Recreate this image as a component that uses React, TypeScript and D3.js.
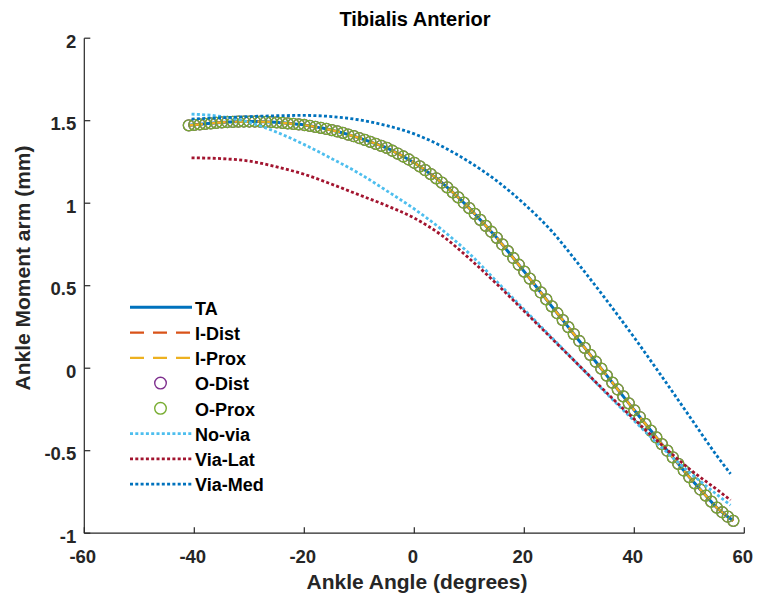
import React, { useEffect, useRef } from "react";
import * as d3 from "d3";

// ankle angle grid used by the TA family (1 degree steps)
const taAngles = d3.range(-41, 59, 1);

// TA moment arm (I-Dist, I-Prox, O-Dist, O-Prox sit on top of it)
const taValues = [
  1.472,
  1.475, 1.478, 1.481, 1.484, 1.487, 1.49, 1.492, 1.493, 1.494, 1.495,
  1.495, 1.495, 1.494, 1.493, 1.492, 1.49, 1.487, 1.484, 1.481, 1.478,
  1.474, 1.469, 1.463, 1.457, 1.45, 1.443, 1.435, 1.426, 1.416, 1.406,
  1.395, 1.384, 1.372, 1.36, 1.348, 1.335, 1.318, 1.301, 1.283, 1.265,
  1.245, 1.223, 1.2, 1.176, 1.151, 1.125, 1.096, 1.066, 1.035, 1.003,
  0.97, 0.935, 0.899, 0.863, 0.827, 0.79, 0.75, 0.709, 0.668, 0.627,
  0.585, 0.543, 0.501, 0.459, 0.417, 0.375, 0.333, 0.291, 0.249, 0.207,
  0.165, 0.123, 0.081, 0.039, -0.003, -0.045, -0.087, -0.129, -0.171, -0.213,
  -0.255, -0.296, -0.337, -0.378, -0.419, -0.46, -0.5, -0.54, -0.58, -0.62,
  -0.66, -0.698, -0.735, -0.772, -0.809, -0.845, -0.873, -0.9, -0.925,
];

// coarser readings for the via-point variants
const viaAngles = [-40.5, -35, -30, -25, -20, -15, -10, -5, 0, 5, 10, 15, 20, 25, 30, 35, 40, 45, 50, 55, 57.5];
const noViaValues = [1.54, 1.525, 1.49, 1.43, 1.355, 1.27, 1.18, 1.075, 0.965, 0.84, 0.695, 0.525, 0.355, 0.185, 0.015, -0.155, -0.32, -0.48, -0.63, -0.765, -0.83];
const viaLatValues = [1.275, 1.27, 1.255, 1.22, 1.175, 1.115, 1.05, 0.985, 0.91, 0.805, 0.665, 0.51, 0.345, 0.18, 0.015, -0.15, -0.31, -0.465, -0.61, -0.735, -0.8];
const viaMedValues = [1.51, 1.518, 1.525, 1.53, 1.532, 1.525, 1.505, 1.47, 1.42, 1.345, 1.25, 1.135, 0.995, 0.83, 0.625, 0.41, 0.185, -0.05, -0.29, -0.53, -0.64];

const xTicks = [-60, -40, -20, 0, 20, 40, 60];
const yTicks = [-1, -0.5, 0, 0.5, 1, 1.5, 2];

const legendNames = ["TA", "I-Dist", "I-Prox", "O-Dist", "O-Prox", "No-via", "Via-Lat", "Via-Med"];

const font = "'Liberation Sans', Arial, Helvetica, sans-serif";

export default function App() {
  const svgRef = useRef<SVGSVGElement | null>(null);

  useEffect(() => {
    const width = 757;
    const height = 601;
    const left = 84.3;
    const right = 744.3;
    const top = 38.2;
    const bottom = 533.2;

    const svg = d3.select(svgRef.current)
      .attr("width", width)
      .attr("height", height)
      .style("font-family", font);
    svg.selectAll("*").remove();

    const x = d3.scaleLinear().domain([-60, 60]).range([left, right]);
    const y = d3.scaleLinear().domain([-1, 2]).range([bottom, top]);

    // Styles per series: solid, dashed, circles, dotted
    const styles = [
      { color: "#0072BD", kind: "line", width: 3, dash: null },
      { color: "#D95319", kind: "line", width: 2.2, dash: "14 9" },
      { color: "#EDB120", kind: "line", width: 2.2, dash: "14 9" },
      { color: "#7E2F8E", kind: "circle" },
      { color: "#77AC30", kind: "circle" },
      { color: "#4DBEEE", kind: "line", width: 2.8, dash: "3 2.3" },
      { color: "#A2142F", kind: "line", width: 2.8, dash: "3 2.3" },
      { color: "#0072BD", kind: "line", width: 2.8, dash: "3 2.3" },
    ] as any[];

    const taPts: [number, number][] = taAngles.map((a, i) => [a, taValues[i]]);
    const seriesPts: [number, number][][] = [
      taPts, taPts, taPts, taPts, taPts,
      viaAngles.map((a, i) => [a, noViaValues[i]]),
      viaAngles.map((a, i) => [a, viaLatValues[i]]),
      viaAngles.map((a, i) => [a, viaMedValues[i]]),
    ];

    const line = d3.line<[number, number]>()
      .x(d => x(d[0]))
      .y(d => y(d[1]))
      .curve(d3.curveMonotoneX);

    const plot = svg.append("g");
    seriesPts.forEach((pts, i) => {
      const s = styles[i];
      if (s.kind === "circle") {
        plot.append("g")
          .selectAll("circle")
          .data(pts)
          .join("circle")
          .attr("cx", d => x(d[0]))
          .attr("cy", d => y(d[1]))
          .attr("r", 5.5)
          .attr("fill", "none")
          .attr("stroke", s.color)
          .attr("stroke-width", 1.3);
      } else {
        plot.append("path")
          .datum(pts)
          .attr("d", line)
          .attr("fill", "none")
          .attr("stroke", s.color)
          .attr("stroke-width", s.width)
          .attr("stroke-dasharray", s.dash);
      }
    });

    // Axes: left and bottom only, ticks inward
    const axisColor = "#262626";
    const tickLen = 6;
    const axes = svg.append("g");
    axes.append("line")
      .attr("x1", left).attr("x2", right)
      .attr("y1", bottom).attr("y2", bottom)
      .attr("stroke", axisColor)
      .attr("stroke-width", 1.2);
    axes.append("line")
      .attr("x1", left).attr("x2", left)
      .attr("y1", top).attr("y2", bottom)
      .attr("stroke", axisColor)
      .attr("stroke-width", 1.2);

    xTicks.forEach(t => {
      axes.append("line")
        .attr("x1", x(t)).attr("x2", x(t))
        .attr("y1", bottom).attr("y2", bottom - tickLen)
        .attr("stroke", axisColor)
        .attr("stroke-width", 1.2);
      axes.append("text")
        .attr("x", x(t) - 1.5)
        .attr("y", bottom + 30)
        .attr("text-anchor", "middle")
        .attr("font-size", 18.5)
        .attr("font-weight", "bold")
        .attr("fill", axisColor)
        .text(t);
    });

    yTicks.forEach(t => {
      axes.append("line")
        .attr("x1", left).attr("x2", left + tickLen)
        .attr("y1", y(t)).attr("y2", y(t))
        .attr("stroke", axisColor)
        .attr("stroke-width", 1.2);
      axes.append("text")
        .attr("x", left - 8)
        .attr("y", y(t) + 3)
        .attr("dy", "0.35em")
        .attr("text-anchor", "end")
        .attr("font-size", 18.5)
        .attr("font-weight", "bold")
        .attr("fill", axisColor)
        .text(t);
    });

    svg.append("text")
      .attr("x", 415)
      .attr("y", 26)
      .attr("text-anchor", "middle")
      .attr("font-size", 20)
      .attr("font-weight", "bold")
      .attr("fill", "#000")
      .text("Tibialis Anterior");

    svg.append("text")
      .attr("x", 417)
      .attr("y", 589)
      .attr("text-anchor", "middle")
      .attr("font-size", 21)
      .attr("font-weight", "bold")
      .attr("fill", axisColor)
      .text("Ankle Angle (degrees)");

    svg.append("text")
      .attr("transform", `translate(30,268) rotate(-90)`)
      .attr("text-anchor", "middle")
      .attr("font-size", 21)
      .attr("font-weight", "bold")
      .attr("fill", axisColor)
      .text("Ankle Moment arm (mm)");

    // Legend, no box
    const lg = svg.append("g");
    legendNames.forEach((name, i) => {
      const s = styles[i];
      const ly = 307.3 + i * 25.25;
      if (s.kind === "circle") {
        lg.append("circle")
          .attr("cx", 160.5).attr("cy", ly).attr("r", 5.8)
          .attr("fill", "none").attr("stroke", s.color).attr("stroke-width", 1.4);
      } else {
        lg.append("line")
          .attr("x1", 130).attr("x2", 192)
          .attr("y1", ly).attr("y2", ly)
          .attr("stroke", s.color)
          .attr("stroke-width", s.width)
          .attr("stroke-dasharray", s.dash);
      }
      lg.append("text")
        .attr("x", 195)
        .attr("y", ly + 1)
        .attr("dy", "0.35em")
        .attr("font-size", 18)
        .attr("font-weight", "bold")
        .attr("fill", "#000")
        .text(name);
    });

    return () => {
      d3.select(svgRef.current).selectAll("*").remove();
    };
  }, []);

  return (
    <div style={{ position: "absolute", left: 0, top: 0, background: "#fff" }}>
      <svg ref={svgRef} />
    </div>
  );
}
